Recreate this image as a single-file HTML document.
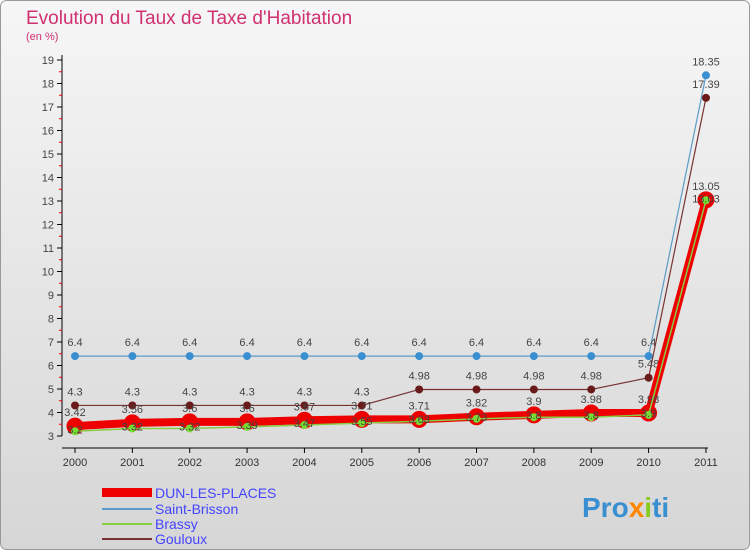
<!DOCTYPE html>
<html><head><meta charset="utf-8"><style>
body{margin:0;width:750px;height:550px;overflow:hidden;font-family:"Liberation Sans",sans-serif}
</style></head><body>
<svg width="750" height="550">
<defs><linearGradient id="bg" x1="0" y1="0" x2="0" y2="1"><stop offset="0" stop-color="#f6f6f6"/><stop offset="1" stop-color="#d6d6d6"/></linearGradient></defs>
<rect x="0.5" y="0.5" width="749" height="549" rx="6" fill="url(#bg)" stroke="#999"/>
<text x="26" y="24" font-size="19" fill="#d03070">Evolution du Taux de Taxe d'Habitation</text>
<text x="26" y="40" font-size="11" fill="#d03070">(en %)</text>
<g id="axes"></g><g id="series"></g>
<g>
<rect x="102" y="488" width="50" height="9" fill="#e00"/>
<text x="155" y="498" font-size="14" fill="#44f">DUN-LES-PLACES</text>
<line x1="102" y1="509" x2="152" y2="509" stroke="#5b9bc8" stroke-width="2"/>
<text x="155" y="514" font-size="14" fill="#44f">Saint-Brisson</text>
<line x1="102" y1="524" x2="152" y2="524" stroke="#8c4" stroke-width="2"/>
<text x="155" y="529" font-size="14" fill="#44f">Brassy</text>
<line x1="102" y1="539" x2="152" y2="539" stroke="#733" stroke-width="2"/>
<text x="155" y="544" font-size="14" fill="#44f">Gouloux</text>
</g>
<text x="582" y="517" font-size="28" font-weight="bold" fill="#3a8fd0">Pro<tspan fill="#f80">x</tspan><tspan fill="#8c2">i</tspan>ti</text>
</svg>
<script>
const years=[2000,2001,2002,2003,2004,2005,2006,2007,2008,2009,2010,2011];
const yTicks=[3,4,5,6,7,8,9,10,11,12,13,14,15,16,17,18,19];
const dun=[3.42,3.56,3.6,3.6,3.67,3.71,3.71,3.82,3.9,3.98,3.98,13.05];
const saintBrisson=[6.4,6.4,6.4,6.4,6.4,6.4,6.4,6.4,6.4,6.4,6.4,18.35];
const brassy=[3.2,3.32,3.32,3.39,3.47,3.55,3.63,3.73,3.8,3.8,3.9,13.03];
const gouloux=[4.3,4.3,4.3,4.3,4.3,4.3,4.98,4.98,4.98,4.98,5.48,17.39];
const NS="http://www.w3.org/2000/svg";
const X=i=>75+i*57.36, Y=v=>436-(v-3)*23.5;
function mk(t,a,p){const e=document.createElementNS(NS,t);for(const k in a)e.setAttribute(k,a[k]);p.appendChild(e);return e;}
const ax=document.getElementById('axes'), sg=document.getElementById('series');
mk('line',{x1:62,y1:436,x2:62,y2:55,stroke:'#000'},ax);
mk('line',{x1:62,y1:448,x2:708,y2:448,stroke:'#000'},ax);
yTicks.forEach(v=>{
 mk('line',{x1:57,y1:Y(v),x2:62,y2:Y(v),stroke:'#000'},ax);
 if(v<19)mk('line',{x1:59,y1:Y(v+0.5),x2:62,y2:Y(v+0.5),stroke:'#e00'},ax);
 const t=mk('text',{x:54,y:Y(v)+4,'font-size':11,'text-anchor':'end',fill:'#444'},ax);
 
 
 t.textContent=v;
});
years.forEach((y,i)=>{
 mk('line',{x1:X(i),y1:448,x2:X(i),y2:453,stroke:'#000'},ax);
 const t=mk('text',{x:X(i),y:466,'font-size':11,'text-anchor':'middle',fill:'#333'},ax);
 
 
 t.textContent=y;
});
function series(vals,name,color,w,r,fill,lblOff){
 const g=mk('g',{},sg);
 
 
 mk('polyline',{points:vals.map((v,i)=>X(i)+','+Y(v)).join(' '),fill:'none',stroke:color,'stroke-width':w,'stroke-linejoin':'round'},g);
 vals.forEach((v,i)=>{
  const c=mk('circle',{cx:X(i),cy:Y(v),r:r,fill:fill,stroke:color==='#e00'?'#e00':'none','stroke-width':color==='#e00'?3:0},g);
  
  
  const t=mk('text',{x:X(i),y:Y(v)-lblOff,'font-size':11,'text-anchor':'middle',fill:'#444'},g);
  
  
  t.textContent=v;
 });
}
series(saintBrisson,'saint-brisson','#5b9bc8',1.2,4,'#3a8fd0',10);
series(gouloux,'gouloux','#733',1.2,4,'#6b1a1a',10);
series(dun,'dun-les-places','#e00',8,7,'#e00',10);
series(brassy,'brassy','#8c4',1.5,4,'#7d3',-2);
</script>
</body></html>
